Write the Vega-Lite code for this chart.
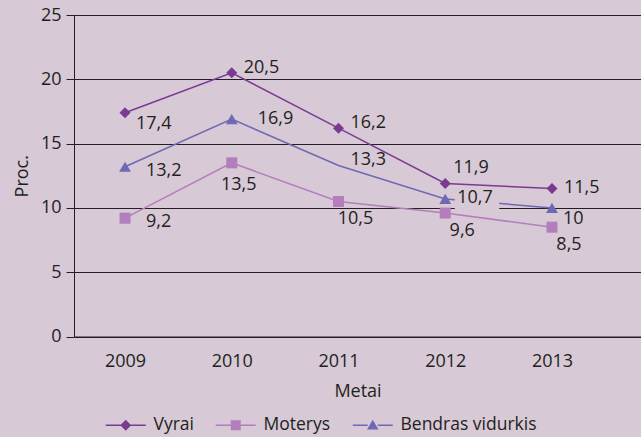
{
"$schema":"https://vega.github.io/schema/vega-lite/v6.json",
"width":567,"height":321.5,
"autosize":"none",
"padding":{"left":74,"top":15,"right":0,"bottom":100.5},
"background":"#d7c9d6",
"config":{
 "view":{"stroke":null},
 "font":"Open Sans",
 "locale":{"number":{"decimal":",","thousands":" ","grouping":[3],"currency":["","€"]}},
 "axis":{"labelFontSize":18,"labelColor":"#231f20","titleFontSize":18,"titleFontWeight":"normal","titleColor":"#231f20","domainColor":"#231f20","tickColor":"#231f20","gridColor":"#231f20","gridOpacity":1,"domainWidth":1,"gridWidth":1,"tickWidth":1}
},
"data":{"values":[
 {"s":"Vyrai","year":2009,"v":17.4},
 {"s":"Vyrai","year":2010,"v":20.5},
 {"s":"Vyrai","year":2011,"v":16.2},
 {"s":"Vyrai","year":2012,"v":11.9},
 {"s":"Vyrai","year":2013,"v":11.5},
 {"s":"Moterys","year":2009,"v":9.2},
 {"s":"Moterys","year":2010,"v":13.5},
 {"s":"Moterys","year":2011,"v":10.5},
 {"s":"Moterys","year":2012,"v":9.6},
 {"s":"Moterys","year":2013,"v":8.5},
 {"s":"Bendras vidurkis","year":2009,"v":13.2},
 {"s":"Bendras vidurkis","year":2010,"v":16.9},
 {"s":"Bendras vidurkis","year":2011,"v":13.3},
 {"s":"Bendras vidurkis","year":2012,"v":10.7},
 {"s":"Bendras vidurkis","year":2013,"v":10}
]},
"encoding":{
 "x":{"field":"year","type":"quantitative","scale":{"domain":[2008.522,2013.834],"nice":false,"zero":false},
   "axis":{"title":"Metai","values":[2009,2010,2011,2012,2013],"format":"d","grid":false,"ticks":false,"labelPadding":16,"titlePadding":12,"labelFlush":false}},
 "y":{"field":"v","type":"quantitative","scale":{"domain":[0,25],"nice":false,"zero":true},
   "axis":{"title":"Proc.","values":[0,5,10,15,20,25],"grid":true,"tickSize":8,"labelPadding":5,"titlePadding":9}}
},
"layer":[
 {"transform":[{"filter":"datum.s === 'Vyrai'"}],
  "mark":{"type":"line","strokeWidth":1.5,"color":"#7b3a92"},"encoding":{}},
 {"transform":[{"filter":"datum.s === 'Moterys'"}],
  "mark":{"type":"line","strokeWidth":1.5,"color":"#b47dbd"},"encoding":{}},
 {"transform":[{"filter":"datum.s === 'Bendras vidurkis'"}],
  "mark":{"type":"line","strokeWidth":1.5,"color":"#6d69b3"},"encoding":{}},
 {"transform":[{"filter":"datum.s === 'Bendras vidurkis' && datum.year === 2012"}],
  "mark":{"type":"point","shape":"M0.95,-0.9H5.4V1.05H0.95Z","filled":true,"opacity":1,"size":400,"color":"#d7c9d6","strokeWidth":0}},
 {"transform":[{"filter":"datum.s === 'Vyrai'"}],
  "mark":{"type":"point","shape":"diamond","filled":true,"opacity":1,"size":121,"color":"#7b3a92"}},
 {"transform":[{"filter":"datum.s === 'Moterys'"}],
  "mark":{"type":"point","shape":"square","filled":true,"opacity":1,"size":121,"color":"#b47dbd"}},
 {"transform":[{"filter":"datum.s === 'Bendras vidurkis' && datum.year !== 2011"}],
  "mark":{"type":"point","shape":"triangle-up","filled":true,"opacity":1,"size":140,"color":"#6d69b3"}},
 {"transform":[{"filter":"(datum.s === 'Vyrai' && (datum.year === 2010 || datum.year === 2011)) || (datum.s === 'Bendras vidurkis' && datum.year === 2011)"}],
  "mark":{"type":"text","align":"left","baseline":"middle","dx":12,"dy":-5,"fontSize":18,"color":"#231f20"},
  "encoding":{"text":{"field":"v","type":"quantitative","format":".1~f"}}},
 {"transform":[{"filter":"(datum.s === 'Vyrai' && datum.year === 2013) || (datum.s === 'Bendras vidurkis' && datum.year === 2012)"}],
  "mark":{"type":"text","align":"left","baseline":"middle","dx":12,"dy":-1,"fontSize":18,"color":"#231f20"},
  "encoding":{"text":{"field":"v","type":"quantitative","format":".1~f"}}},
 {"transform":[{"filter":"(datum.s === 'Vyrai' && datum.year === 2009) || (datum.s === 'Bendras vidurkis' && datum.year === 2013)"}],
  "mark":{"type":"text","align":"left","baseline":"middle","dx":11,"dy":11,"fontSize":18,"color":"#231f20"},
  "encoding":{"text":{"field":"v","type":"quantitative","format":".1~f"}}},
 {"transform":[{"filter":"datum.s === 'Vyrai' && datum.year === 2012"}],
  "mark":{"type":"text","align":"left","baseline":"middle","dx":8,"dy":-15,"fontSize":18,"color":"#231f20"},
  "encoding":{"text":{"field":"v","type":"quantitative","format":".1~f"}}},
 {"transform":[{"filter":"(datum.s === 'Moterys' && datum.year === 2009) || (datum.s === 'Bendras vidurkis' && datum.year === 2009)"}],
  "mark":{"type":"text","align":"left","baseline":"middle","dx":21,"dy":4,"fontSize":18,"color":"#231f20"},
  "encoding":{"text":{"field":"v","type":"quantitative","format":".1~f"}}},
 {"transform":[{"filter":"datum.s === 'Bendras vidurkis' && datum.year === 2010"}],
  "mark":{"type":"text","align":"left","baseline":"middle","dx":26,"dy":0,"fontSize":18,"color":"#231f20"},
  "encoding":{"text":{"field":"v","type":"quantitative","format":".1~f"}}},
 {"transform":[{"filter":"datum.s === 'Moterys' && datum.year >= 2011"}],
  "mark":{"type":"text","align":"center","baseline":"middle","dx":17,"dy":18,"fontSize":18,"color":"#231f20"},
  "encoding":{"text":{"field":"v","type":"quantitative","format":".1~f"}}},
 {"transform":[{"filter":"datum.s === 'Moterys' && datum.year === 2010"}],
  "mark":{"type":"text","align":"center","baseline":"middle","dx":7,"dy":22,"fontSize":18,"color":"#231f20"},
  "encoding":{"text":{"field":"v","type":"quantitative","format":".1~f"}}},
 {"mark":{"type":"point","filled":true,"opacity":0,"size":100},
  "encoding":{
   "color":{"field":"s","type":"nominal","scale":{"domain":["Vyrai","Moterys","Bendras vidurkis"],"range":["#7b3a92","#b47dbd","#6d69b3"]},
     "legend":{"title":null,"orient":"none","legendX":43,"legendY":401,"direction":"horizontal","labelFontSize":17.5,"labelColor":"#231f20","symbolSize":100,"symbolOpacity":1,"labelOffset":19,"columnPadding":18}},
   "shape":{"field":"s","type":"nominal","scale":{"domain":["Vyrai","Moterys","Bendras vidurkis"],"range":["M-4,-0.15H-1V0.15H-4ZM1,-0.15H4V0.15H1ZM0,-1.1L1.1,0L0,1.1L-1.1,0Z","M-4,-0.15H-1V0.15H-4ZM1,-0.15H4V0.15H1ZM-1,-1H1V1H-1Z","M-4,-0.15H-1V0.15H-4ZM1,-0.15H4V0.15H1ZM0,-1.1L1.15,0.85H-1.15Z"]},
     "legend":{"title":null,"orient":"none","legendX":43,"legendY":401,"direction":"horizontal","labelFontSize":17.5,"labelColor":"#231f20","symbolSize":100,"symbolOpacity":1,"labelOffset":19,"columnPadding":18}}
  }}
]
}
